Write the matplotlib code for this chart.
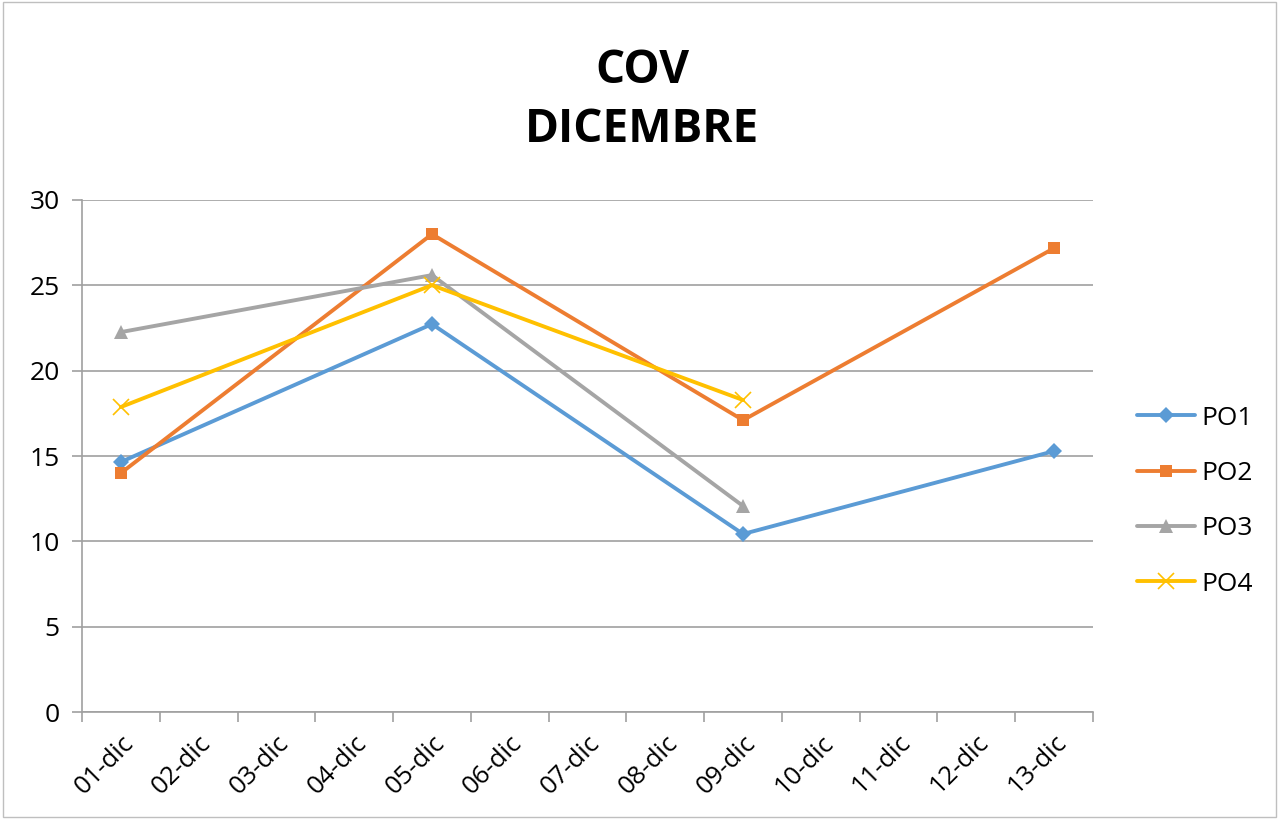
import numpy as np
import matplotlib.pyplot as plt

days = ['01-dic', '02-dic', '03-dic', '04-dic', '05-dic', '06-dic', '07-dic',
        '08-dic', '09-dic', '10-dic', '11-dic', '12-dic', '13-dic']
po1 = [14.65, None, None, None, 22.73, None, None, None, 10.43, None, None, None, 15.29]
po2 = [14.0, None, None, None, 28.0, None, None, None, 17.1, None, None, None, 27.18]
po3 = [22.26, None, None, None, 25.6, None, None, None, 12.07, None, None, None, None]
po4 = [17.87, None, None, None, 25.01, None, None, None, 18.28, None, None, None, None]

series = [('PO1', po1, '#5B9BD5', 'D', 8),
          ('PO2', po2, '#ED7D31', 's', 9),
          ('PO3', po3, '#A5A5A5', '^', 10),
          ('PO4', po4, '#FFC000', 'x', 11)]

plt.rcParams['font.family'] = ['Open Sans', 'DejaVu Sans']

fig = plt.figure(figsize=(12.79, 8.19), dpi=100)
ax = fig.add_axes([0.0641, 0.1306, 0.7905, 0.6252])

for name, vals, col, mk, ms in series:
    xs = [i for i, v in enumerate(vals) if v is not None]
    ys = [v for v in vals if v is not None]
    ax.plot(xs, ys, color=col, lw=2.8, marker=mk, markersize=ms,
            markeredgewidth=1.2 if mk == 'x' else 0, label=name,
            solid_capstyle='round')

ax.set_xlim(-0.5, len(days) - 0.5)
ax.set_ylim(0, 30)
ax.set_yticks(np.arange(0, 31, 5))
ax.yaxis.grid(True, color='#A0A0A0', lw=1.2)
ax.set_axisbelow(True)

ax.set_xticks(np.arange(-0.5, len(days), 1))
ax.set_xticklabels([])
ax.set_xticks(np.arange(len(days)), minor=True)
ax.set_xticklabels(days, minor=True, rotation=45, ha='right', va='top',
                   rotation_mode='anchor', fontsize=18.5)
ax.tick_params(axis='x', which='minor', length=0, pad=13)
ax.tick_params(axis='x', which='major', length=7, color='#A0A0A0', width=1.2)
ax.tick_params(axis='y', length=7, color='#A0A0A0', width=1.2, labelsize=19, pad=9)

for s in ['top', 'right']:
    ax.spines[s].set_visible(False)
for s in ['left', 'bottom']:
    ax.spines[s].set_color('#A0A0A0')
    ax.spines[s].set_linewidth(1.2)

fig.text(0.502, 0.878, 'COV\nDICEMBRE', ha='center', va='center',
         fontsize=33, fontweight='bold', linespacing=1.35)

ax.legend(loc='center left', bbox_to_anchor=(1.02, 0.412), frameon=False,
          fontsize=19, labelspacing=1.15, handlelength=2.2, handletextpad=0.25)

fig.patches.append(plt.Rectangle((0.002, 0.002), 0.996, 0.996, transform=fig.transFigure,
                                 fill=False, edgecolor='#BFBFBF', lw=1))

fig.savefig('out.png', dpi=100)
